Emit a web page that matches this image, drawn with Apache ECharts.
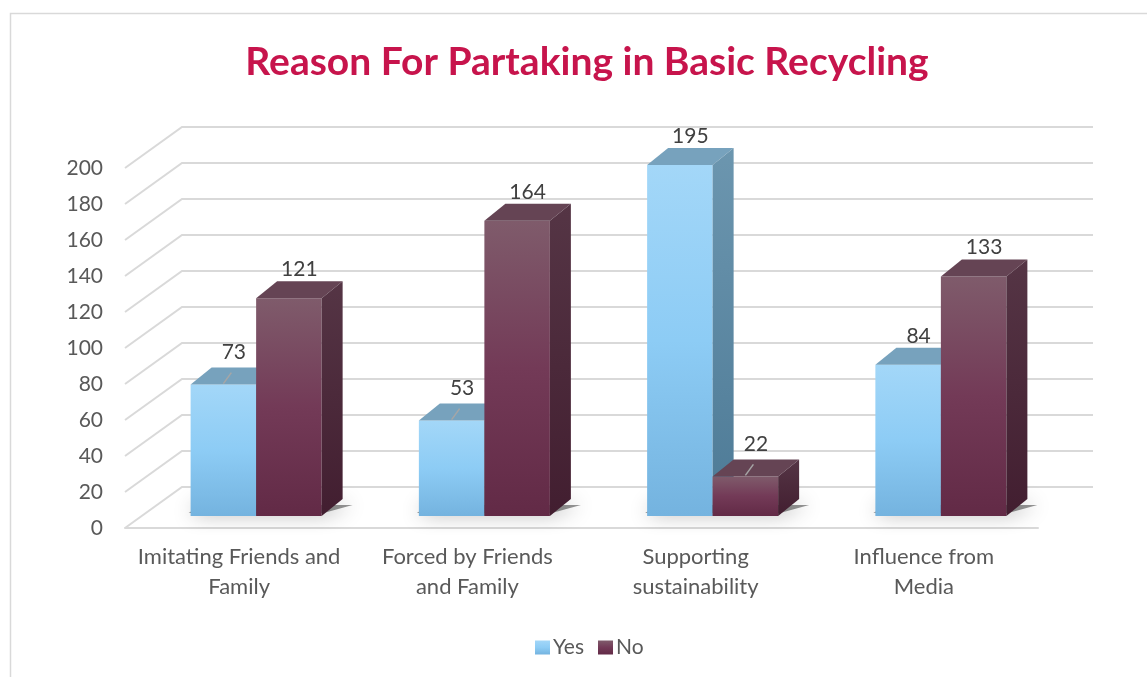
<!DOCTYPE html>
<html><head><meta charset="utf-8">
<script src="https://cdn.jsdelivr.net/npm/echarts@6/dist/echarts.min.js"></script>
<style>html,body{margin:0;padding:0;background:#fff}#c{width:1147px;height:677px}</style>
</head><body><div id="c"></div>
<script>
// ---- data ----
const categories = ['Imitating Friends and\nFamily', 'Forced by Friends\nand Family', 'Supporting\nsustainability', 'Influence from\nMedia'];
const yesValues = [73, 53, 195, 84];
const noValues = [121, 164, 22, 133];
const yTicks = [0, 20, 40, 60, 80, 100, 120, 140, 160, 180, 200];
const seriesNames = ['Yes', 'No'];
const titleText = 'Reason For Partaking in Basic Recycling';

// ---- rendering parameters ----
const FONT = 'Lato, "Open Sans", sans-serif';
const WALL_DX = 57, WALL_DY = -41;
const BAR_DX = 17, BAR_DY = -12;
const DEPTH_X = 21, DEPTH_Y = -17;
const BAR_FRAC = 0.287;
const leaderLines = { Yes: [0, 1], No: [2] };

function vgrad(stops) {
  return { type: 'linear', x: 0, y: 0, x2: 0, y2: 1, colorStops: stops.map((c, k) => ({ offset: k / (stops.length - 1), color: c })) };
}
const palette = {
  Yes: { front: ['#a3d7f8', '#8dccf5', '#74b3df'], top: '#77a2bd', side: ['#6c96af', '#4d7a96'] },
  No: { front: ['#7f5b6b', '#733a57', '#622a46'], top: '#654454', side: ['#553545', '#421e30'] }
};

function makeBarRenderer(s) {
  const name = seriesNames[s];
  const pal = palette[name];
  return function (params, api) {
    const i = api.value(0), v = api.value(1);
    const base = api.coord([i, 0]);
    const top = api.coord([i, v]);
    const band = api.size([1, 0])[0];
    const w = band * BAR_FRAC;
    const x0 = base[0] + BAR_DX + (s === 0 ? -w : 0);
    const x1 = x0 + w;
    const yb = base[1] + BAR_DY;
    const yt = top[1] + BAR_DY;
    const xc = (x0 + x1) / 2;
    const hasLeader = leaderLines[name].indexOf(i) >= 0;
    const children = [
      { type: 'rect', shape: { x: x0, y: yt, width: w, height: yb - yt }, style: { fill: vgrad(pal.front) } },
      { type: 'polygon', shape: { points: [[x0, yt], [x1, yt], [x1 + DEPTH_X, yt + DEPTH_Y], [x0 + DEPTH_X, yt + DEPTH_Y]] }, style: { fill: pal.top } },
      { type: 'polygon', shape: { points: [[x1, yt], [x1 + DEPTH_X, yt + DEPTH_Y], [x1 + DEPTH_X, yb + DEPTH_Y], [x1, yb]] }, style: { fill: vgrad(pal.side) } }
    ];
    if (hasLeader) {
      children.push({ type: 'line', shape: { x1: xc, y1: yt - 1, x2: xc + 8, y2: yt - 12 }, style: { stroke: '#a6a6a6', lineWidth: 1.5 } });
    }
    children.push({
      type: 'text',
      style: { text: String(v), x: xc + DEPTH_X / 2, y: yt + DEPTH_Y - (hasLeader ? 15 : 12), align: 'center', verticalAlign: 'middle', fontFamily: FONT, fontSize: 21, fill: '#404040' }
    });
    return { type: 'group', children };
  };
}

function renderWall(params, api) {
  const v = api.value(1);
  const cs = params.coordSys;
  const y = api.coord([0, v])[1];
  const xl = cs.x, xr = cs.x + cs.width;
  return { type: 'polyline', shape: { points: [[xl, y], [xl + WALL_DX, y + WALL_DY], [xr + WALL_DX - 2, y + WALL_DY]] }, style: { stroke: '#d9d9d9', lineWidth: 2, fill: null } };
}

function renderShadow(params, api) {
  const i = api.value(0);
  const base = api.coord([i, 0]);
  const band = api.size([1, 0])[0];
  const w = band * BAR_FRAC;
  const xl = base[0] + BAR_DX - w, xr = base[0] + BAR_DX + w;
  const yb = base[1] + BAR_DY;
  return {
    type: 'polygon',
    shape: { points: [[xl - 2, yb - 3], [xr + 2, yb - 3], [xr + DEPTH_X + 10, yb + DEPTH_Y + 6], [xl + DEPTH_X - 10, yb + DEPTH_Y + 6]] },
    style: { fill: 'rgba(20,20,20,0.45)', shadowBlur: 20, shadowColor: 'rgba(0,0,0,1)' }
  };
}

const chart = echarts.init(document.getElementById('c'));
chart.setOption({
  animation: false,
  backgroundColor: '#ffffff',
  graphic: [
    { type: 'rect', silent: true, shape: { x: 10.5, y: 13.5, width: 1200, height: 700 }, style: { fill: null, stroke: '#d9d9d9', lineWidth: 1.5 } },
    { type: 'text', silent: true, x: 587, y: 62, style: { text: titleText, align: 'center', verticalAlign: 'middle', fontFamily: FONT, fontWeight: 'bold', fontSize: 39, fill: '#c7144c' } }
  ],
  legend: {
    data: seriesNames,
    left: 530, top: 632,
    icon: 'rect', itemWidth: 15, itemHeight: 14, itemGap: 14,
    textStyle: { fontFamily: FONT, fontSize: 21, color: '#595959', padding: [0, 0, 0, -2] },
    selectedMode: false
  },
  grid: { left: 125, right: 109, top: 168, bottom: 149, containLabel: false },
  xAxis: {
    type: 'category', data: categories,
    axisLine: { show: true, lineStyle: { color: '#d9d9d9', width: 2 } },
    axisTick: { show: false },
    axisLabel: { interval: 0, fontFamily: FONT, fontSize: 22, lineHeight: 30, color: '#595959', margin: 14 }
  },
  yAxis: {
    type: 'value', min: 0, max: 200, interval: 20,
    axisLine: { show: false }, axisTick: { show: false }, splitLine: { show: false },
    axisLabel: { fontFamily: FONT, fontSize: 21, color: '#595959', margin: 22 }
  },
  series: [
    { type: 'custom', name: 'walls', silent: true, z: 1, renderItem: renderWall, data: yTicks.map(v => [0, v]), encode: { x: 0, y: 1 } },
    { type: 'custom', name: 'shadow', silent: true, z: 2, renderItem: renderShadow, data: categories.map((c, i) => [i, 0]), encode: { x: 0, y: 1 } },
    { type: 'custom', name: 'Yes', z: 3, renderItem: makeBarRenderer(0), data: yesValues.map((v, i) => [i, v]), encode: { x: 0, y: 1 }, itemStyle: { color: vgrad(palette.Yes.front) } },
    { type: 'custom', name: 'No', z: 3, renderItem: makeBarRenderer(1), data: noValues.map((v, i) => [i, v]), encode: { x: 0, y: 1 }, itemStyle: { color: vgrad(palette.No.front) } }
  ]
});
</script>
</body></html>
